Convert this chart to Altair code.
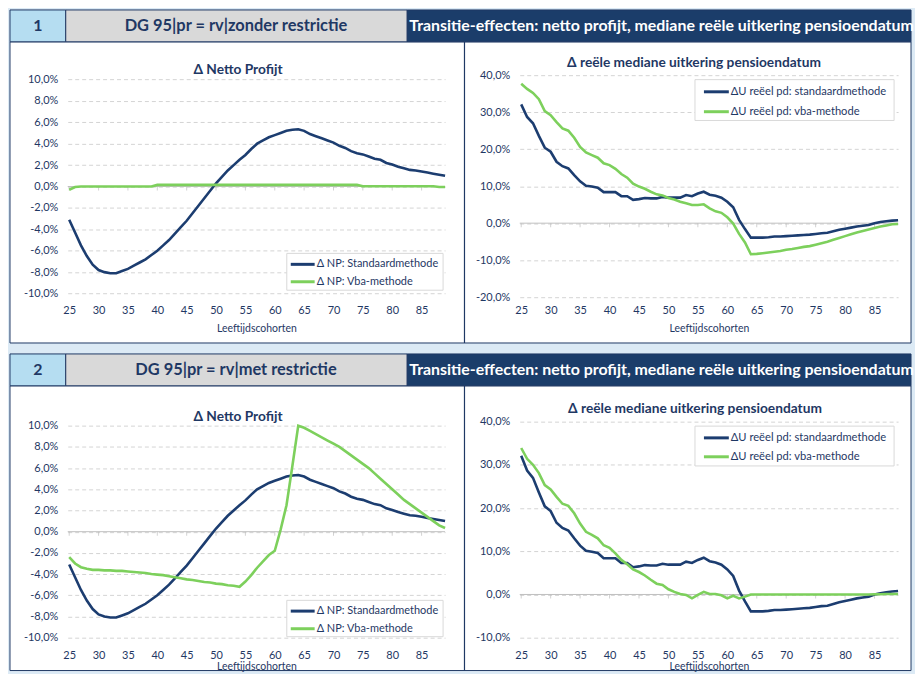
import altair as alt
import pandas as pd

# ---------------- data ----------------
ages = list(range(25, 90))
x_ticks = [25, 30, 35, 40, 45, 50, 55, 60, 65, 70, 75, 80, 85]

panel_numbers = ["1", "2"]
panel_titles = ["DG 95|pr = rv|zonder restrictie", "DG 95|pr = rv|met restrictie"]
section_title = "Transitie-effecten: netto profijt, mediane reële uitkering pensioendatum"
left_title = "Δ Netto Profijt"
right_title = "Δ reële mediane uitkering pensioendatum"
x_title = "Leeftijdscohorten"
np_names = ["Δ NP: Standaardmethode", "Δ NP: Vba-methode"]
u_names = ["ΔU reëel pd: standaardmethode", "ΔU reëel pd: vba-methode"]

np_yticks = [-10, -8, -6, -4, -2, 0, 2, 4, 6, 8, 10]
u_yticks_1 = [-20, -10, 0, 10, 20, 30, 40]
u_yticks_2 = [-10, 0, 10, 20, 30, 40]

# Δ Netto Profijt, standaardmethode (same in both panels), %
np_std = [-3.1, -4.3, -5.5, -6.5, -7.3, -7.8, -8.0, -8.1, -8.1, -7.9,
          -7.7, -7.4, -7.1, -6.8, -6.4, -6.0, -5.5, -5.0, -4.4, -3.8,
          -3.2, -2.5, -1.8, -1.1, -0.4, 0.3, 0.9, 1.5, 2.0, 2.5,
          2.95, 3.5, 4.0, 4.3, 4.6, 4.8, 5.0, 5.2, 5.3, 5.35,
          5.2, 4.9, 4.7, 4.5, 4.3, 4.1, 3.8, 3.6, 3.3, 3.1,
          3.0, 2.8, 2.6, 2.5, 2.2, 2.05, 1.85, 1.7, 1.55, 1.5,
          1.4, 1.3, 1.2, 1.1, 1.0]
# Δ Netto Profijt, vba-methode, zonder restrictie
np_vba_1 = [-0.3, -0.05, 0.0, 0.0, 0.0, 0.0, 0.0, 0.0, 0.0, 0.0,
            0.0, 0.0, 0.0, 0.0, 0.0, 0.15, 0.15, 0.15, 0.15, 0.15,
            0.15, 0.15, 0.15, 0.15, 0.15, 0.15, 0.15, 0.15, 0.15, 0.15,
            0.15, 0.15, 0.15, 0.15, 0.15, 0.15, 0.15, 0.15, 0.15, 0.15,
            0.15, 0.15, 0.15, 0.15, 0.15, 0.15, 0.15, 0.15, 0.15, 0.15,
            0.03, 0.03, 0.03, 0.03, 0.03, 0.03, 0.03, 0.03, 0.03, 0.03,
            0.03, 0.03, 0.03, -0.05, -0.05]
# Δ Netto Profijt, vba-methode, met restrictie
np_vba_2 = [-2.4, -3.0, -3.35, -3.5, -3.6, -3.6, -3.65, -3.65, -3.7, -3.7,
            -3.75, -3.8, -3.85, -3.9, -4.0, -4.05, -4.1, -4.2, -4.3, -4.4,
            -4.5, -4.55, -4.65, -4.75, -4.8, -4.9, -4.95, -5.05, -5.1, -5.2,
            -4.7, -4.1, -3.4, -2.8, -2.2, -1.8, 0.2, 2.5, 6.2, 10.0,
            9.8, 9.5, 9.2, 8.9, 8.6, 8.3, 8.0, 7.6, 7.2, 6.8,
            6.4, 6.0, 5.5, 5.0, 4.5, 4.0, 3.5, 3.0, 2.6, 2.2,
            1.8, 1.4, 1.0, 0.6, 0.35]
# Δ reële mediane uitkering, standaardmethode (same in both panels), %
u_std = [32.1, 28.7, 27.0, 23.6, 20.4, 19.3, 16.6, 15.4, 14.8, 13.0,
         11.3, 10.1, 9.9, 9.6, 8.4, 8.4, 8.4, 7.3, 7.3, 6.3,
         6.5, 6.8, 6.7, 6.7, 7.1, 6.9, 6.9, 6.9, 7.6, 7.3,
         8.0, 8.5, 7.7, 7.4, 6.9, 5.8, 4.3, 0.9, -1.6, -3.9,
         -3.9, -3.9, -3.8, -3.6, -3.6, -3.5, -3.4, -3.3, -3.2, -3.1,
         -2.9, -2.7, -2.6, -2.2, -1.8, -1.5, -1.2, -0.9, -0.7, -0.5,
         0.0, 0.3, 0.5, 0.7, 0.8]
# Δ reële mediane uitkering, vba-methode, zonder restrictie
u_vba_1 = [37.7, 36.3, 35.2, 33.5, 30.3, 29.2, 27.3, 25.6, 25.0, 23.1,
           20.6, 19.1, 18.4, 17.7, 16.2, 15.7, 14.7, 13.3, 12.3, 10.7,
           9.9, 9.3, 8.5, 7.8, 7.5, 6.8, 6.4, 5.8, 5.4, 4.9,
           4.9, 5.1, 4.0, 3.2, 2.8, 1.6, -0.1, -2.9, -5.2, -8.4,
           -8.3, -8.1, -7.9, -7.7, -7.5, -7.2, -7.0, -6.7, -6.4, -6.2,
           -5.8, -5.4, -5.0, -4.5, -4.0, -3.5, -3.0, -2.5, -2.1, -1.7,
           -1.3, -0.9, -0.6, -0.3, -0.2]
# Δ reële mediane uitkering, vba-methode, met restrictie
u_vba_2 = [33.9, 31.4, 30.0, 28.1, 25.3, 24.3, 22.6, 21.0, 20.5, 18.8,
           16.4, 14.5, 13.8, 13.0, 11.4, 10.8, 9.5, 8.0, 7.0, 5.8,
           5.2, 4.4, 3.4, 2.5, 2.2, 1.2, 0.6, 0.1, -0.1, -0.9,
           -0.1, 0.6, 0.1, 0.1, -0.2, -0.9, -0.3, -0.9, -0.5, 0.0,
           0.0, 0.0, 0.0, 0.0, 0.0, 0.0, 0.0, 0.0, 0.0, 0.0,
           0.0, 0.0, 0.0, 0.0, 0.0, 0.0, 0.0, 0.0, 0.0, 0.0,
           0.05, 0.05, 0.1, 0.1, 0.1]

# ---------------- style ----------------
NAVY = "#1f3864"
LINE_NAVY = "#1c3d70"
GREEN = "#7dd05c"
SERIES_COLORS = [LINE_NAVY, GREEN]
BG = "#dceaf5"
HDR_NAVY = "#1b3d6a"
HDR_LIGHT = "#b5ddf1"
HDR_GRAY = "#d9d9d9"
GRID = "#d4d4d4"
FONT = "Lato"

PCT = "replace(replace(format(datum.value, '.1f'), '.', ','), '\u2212', '-') + '%'"
dummy = pd.DataFrame({"k": [0]})


def long_df(std, vba, names):
    return pd.DataFrame({
        "age": ages + ages,
        "value": std + vba,
        "series": [names[0]] * len(ages) + [names[1]] * len(ages),
        "order": [0] * len(ages) + [1] * len(ages),
    })


def rect(x1, x2, y1, y2, fill, stroke=NAVY, sw=1):
    return alt.Chart(dummy).mark_rect(fill=fill, stroke=stroke, strokeWidth=sw).encode(
        x=alt.value(x1), x2=alt.value(x2), y=alt.value(y1), y2=alt.value(y2))


def hline(x1, x2, y, color, sw):
    return alt.Chart(dummy).mark_rule(color=color, strokeWidth=sw).encode(
        x=alt.value(x1), x2=alt.value(x2), y=alt.value(y))


def vline(x, y1, y2):
    return alt.Chart(dummy).mark_rule(color=NAVY, strokeWidth=1.2).encode(
        x=alt.value(x), y=alt.value(y1), y2=alt.value(y2))


def text(t, x, y, size, color, align="center", weight="bold"):
    return alt.Chart(dummy).mark_text(text=t, font=FONT, fontSize=size, fontWeight=weight, color=color,
                                      align=align, baseline="middle").encode(x=alt.value(x), y=alt.value(y))


def legend(names, bx1, bx2, by1, by2, lx1, lx2, ys, size):
    parts = [rect(bx1, bx2, by1, by2, "white", stroke="#d9d9d9", sw=1)]
    for i, nm in enumerate(names):
        parts.append(hline(lx1, lx2, ys[i], SERIES_COLORS[i], 3))
        parts.append(text(nm, lx2 + 2, ys[i], size, NAVY, align="left", weight="normal"))
    return parts


def line_chart(df, names, ydom, yvals, w, h, title, tx, ty, leg, lab_pad, title_pad):
    x_enc = alt.X("age:Q", scale=alt.Scale(domain=[24.75, 89], nice=False, zero=False),
                  axis=alt.Axis(values=x_ticks, title=x_title, grid=False, domain=False, ticks=False,
                                labelOverlap=False, labelColor=NAVY, labelFont=FONT, labelFontSize=11,
                                labelPadding=lab_pad, titleColor=NAVY, titleFont=FONT, titleFontSize=10.5,
                                titleFontWeight="normal", titlePadding=title_pad))
    y_enc = alt.Y("value:Q", scale=alt.Scale(domain=ydom, nice=False, zero=False),
                  axis=alt.Axis(values=yvals, title=None, grid=True, gridDash=[4, 3], gridColor=GRID,
                                domain=False, ticks=False, labelOverlap=False, labelExpr=PCT,
                                labelColor=NAVY, labelFont=FONT, labelFontSize=11, labelPadding=10))
    zero = alt.Chart(pd.DataFrame({"value": [0]})).mark_rule(color="#bfbfbf", strokeWidth=1).encode(y=y_enc)
    ticks = alt.Chart(pd.DataFrame({"age": x_ticks, "value": [0] * len(x_ticks)})).mark_tick(
        color="#bfbfbf", orient="vertical", size=4, thickness=1, yOffset=2
    ).encode(x=x_enc, y=y_enc)
    lines = alt.Chart(df).mark_line(strokeWidth=2.6).encode(
        x=x_enc,
        y=y_enc,
        color=alt.Color("series:N", scale=alt.Scale(domain=names, range=SERIES_COLORS), legend=None),
        order="order:Q",
    )
    ttl = alt.Chart(dummy).mark_text(text=title, font=FONT, fontSize=13.8, fontWeight="bold",
                                     color=NAVY, align="center", baseline="alphabetic").encode(
        x=alt.value(tx), y=alt.value(ty))
    return alt.layer(zero, ticks, lines, ttl, *leg).properties(width=w, height=h)


def spacer(w, h):
    return alt.Chart(dummy).mark_rect(opacity=0).encode(
        x=alt.value(0), x2=alt.value(0), y=alt.value(0), y2=alt.value(0)).properties(width=w, height=h)


# ---------------- decoration (headers + white panels), drawn first ----------------
deco_layers = []
for i, (top, pbottom) in enumerate([(0.5, 335), (346, 664)]):
    deco_layers += [
        rect(2, 907, top + 32, pbottom, "white"),
        vline(458.5, top + 32, pbottom),
        rect(2, 58, top, top + 32, HDR_LIGHT),
        rect(58, 401, top, top + 32, HDR_GRAY),
        rect(401, 907, top, top + 32, HDR_NAVY),
        text(panel_numbers[i], 30, top + 16, 16, NAVY),
        text(panel_titles[i], 229, top + 16, 16.5, NAVY),
        text(section_title, 403, top + 16, 16.0, "white", align="left"),
    ]
COLS = [60, 379, 75, 380]
deco = alt.layer(*deco_layers).properties(width=COLS[0], height=66)

# ---------------- charts ----------------
df_np1 = long_df(np_std, np_vba_1, np_names)
df_np2 = long_df(np_std, np_vba_2, np_names)
df_u1 = long_df(u_std, u_vba_1, u_names)
df_u2 = long_df(u_std, u_vba_2, u_names)

H1, H2 = 223, 217
l1 = line_chart(df_np1, np_names, [-10.34, 10.4], np_yticks, COLS[1], H1, left_title, 171, -1,
                legend(np_names, 220, 377, 179, 216, 224, 248, [190, 207.5], 11), 7, 8)
r1 = line_chart(df_u1, u_names, [-20, 40], u_yticks_1, COLS[3], H1, right_title, 175, -8,
                legend(u_names, 176, 376, 4.5, 45.5, 185, 210, [16.7, 36.7], 11.2), 7, 8)
l2 = line_chart(df_np2, np_names, [-10, 10.38], np_yticks, COLS[1], H2, left_title, 171, -1,
                legend(np_names, 220, 377, 179.5, 216, 224, 248, [190.3, 208], 11), 12, 1)
r2 = line_chart(df_u2, u_names, [-10, 40], u_yticks_2, COLS[3], H2, right_title, 176, -9,
                legend(u_names, 176, 376, 4.5, 44.5, 185, 210, [16.3, 35.3], 11.2), 12, 1)

cells = [
    deco, spacer(COLS[1], 66), spacer(COLS[2], 66), spacer(COLS[3], 66),
    spacer(COLS[0], H1), l1, spacer(COLS[2], H1), r1,
    spacer(COLS[0], 125), spacer(COLS[1], 125), spacer(COLS[2], 125), spacer(COLS[3], 125),
    spacer(COLS[0], H2), l2, spacer(COLS[2], H2), r2,
]

chart = alt.concat(*cells, columns=4, spacing=0, bounds="flush").properties(
    padding=0, background=BG
).resolve_scale(x="independent", y="independent", color="independent").configure_view(stroke=None)

chart.save("out.html", embed_options={"renderer": "svg", "actions": False})
